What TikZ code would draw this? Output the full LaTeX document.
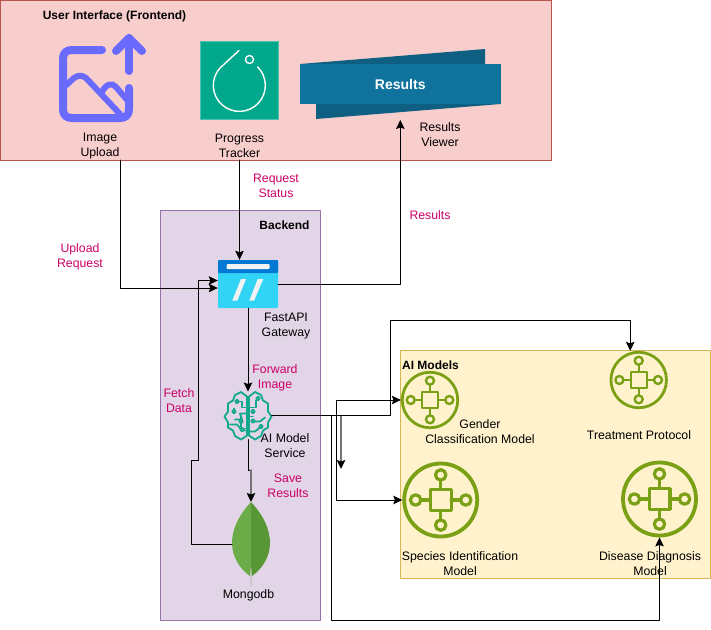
\documentclass[tikz,border=0pt]{standalone}
\usepackage{fontspec}
\setmainfont{Liberation Sans}
\usetikzlibrary{arrows.meta,calc}
\definecolor{uipink}{HTML}{F8CECC}
\definecolor{uired}{HTML}{B85450}
\definecolor{backlilac}{HTML}{E1D5E7}
\definecolor{backviolet}{HTML}{9673A6}
\definecolor{modelcream}{HTML}{FFF2CC}
\definecolor{modelgold}{HTML}{D6B656}
\definecolor{flowpink}{HTML}{CC0066}
\definecolor{uploadblue}{HTML}{6A6AFF}
\definecolor{trackgreen}{HTML}{02A88C}
\definecolor{bannerfront}{HTML}{10739E}
\definecolor{bannerback}{HTML}{0E5F82}
\definecolor{gatedark}{HTML}{0078D4}
\definecolor{gatelight}{HTML}{32D4F5}
\definecolor{braingreen}{HTML}{12A88E}
\definecolor{leaflight}{HTML}{6CAC48}
\definecolor{leafdark}{HTML}{589636}
\definecolor{hubgreen}{HTML}{7AA116}
\tikzset{
    panel/.style={draw, rectangle, line width=1pt, anchor=north west, inner sep=0pt, outer sep=0pt},
    caption/.style={align=center, inner sep=0pt, yshift=-1pt, font=\fontsize{12.3}{15}\selectfont},
    flowtext/.style={caption, text=flowpink},
    heading/.style={caption, font=\fontsize{12}{15}\selectfont\bfseries},
    flow/.style={draw=black, line width=1pt, ->},
    greyflow/.style={draw=black!55, line width=1.6pt, ->},
    ring/.style={draw=hubgreen, circle, fill=none, inner sep=0pt},
    modelhub/.pic={
        \draw[hubgreen] (-8,-8) rectangle (8,8);
        \foreach \a/\b in {1/0,-1/0,0/1,0/-1} {
            \draw[hubgreen] (8*\a,8*\b) -- (15.3*\a,15.3*\b);
            \draw[hubgreen] (19.3*\a,19.3*\b) circle (4);
        }
    }
}
\begin{document}
\begin{tikzpicture}[line cap=round, line join=round, x=1pt, y=-1pt,
    >={Stealth[length=9pt,width=8.5pt,inset=1.5pt,color=black]}]

    \useasboundingbox (0,0) rectangle (711,629);

    \node[panel, fill=uipink, draw=uired, minimum width=551pt, minimum height=160pt] (frontend) at (0,0) {};
    \node[panel, fill=backlilac, draw=backviolet, minimum width=160.3pt, minimum height=410pt] (backend) at (160,210) {};
    \node[panel, fill=modelcream, draw=modelgold, minimum width=310pt, minimum height=228pt] (models) at (400,350) {};

    \node[heading] (frontendtitle) at (114.5,15) {User Interface (Frontend)};
    \node[heading] (backendtitle) at (284.5,224.5) {Backend};
    \node[heading] (modelstitle) at (430.5,364) {AI Models};

    \draw[uploadblue, line width=8pt] (102,50) -- (72,50) .. controls (66,50) and (63,53) .. (63,59)
        -- (63,109) .. controls (63,115) and (66,118) .. (72,118) -- (120,118)
        .. controls (126,118) and (129,115) .. (129,109) -- (129,88);
    \draw[uploadblue, line width=8pt] (129,71) -- (129,38);
    \draw[uploadblue, line width=8pt] (116,51) -- (129,38) -- (142,51);
    \draw[uploadblue, line width=6pt] (63,88) -- (74,78) .. controls (78,75) and (82,75) .. (86,78) -- (120,114);
    \draw[uploadblue, line width=6pt] (102,92) .. controls (106,84) and (112,82) .. (116,87) -- (128,101);

    \node[draw=trackgreen!70!white, fill=trackgreen, minimum size=78pt, inner sep=0pt] (tracker) at (239.5,80) {};
    \draw[white, line width=1.4pt] (239,50.5) -- (220,68) arc[start angle=138, end angle=405, radius=26pt];
    \draw[white, line width=1.4pt] (249.5,59.5) circle (4);

    \fill[bannerback] (300,64) -- (485,49) -- (485,64) -- cycle;
    \fill[bannerback] (316,104) -- (316,119) -- (500.5,104) -- cycle;
    \node[fill=bannerfront, minimum width=200.5pt, minimum height=40pt, inner sep=0pt,
        text=white, font=\fontsize{14}{15}\selectfont\bfseries] (banner) at (400.25,84) {Results};

    \node[fill=gatelight, minimum width=60pt, minimum height=48pt, inner sep=0pt, rounded corners=1pt] (gateway) at (248,284) {};
    \fill[gatedark, rounded corners=1pt] (218,273) rectangle (278,260);
    \fill[white!95!black, rounded corners=1pt] (226.5,264) rectangle (269.5,269);
    \fill[white!95!black] (241,279) -- (246,279) -- (237.3,300.7) -- (232.3,300.7) -- cycle;
    \fill[white!95!black] (257.7,279) -- (263.3,279) -- (254,300.7) -- (249.3,300.7) -- cycle;

    \node[circle, minimum size=48pt, inner sep=0pt, outer sep=0pt] (service) at (248,415.5) {};
    \begin{scope}[shift={(service)}, braingreen, line width=1.8pt]
        \draw (-1,-19) -- (-7,-23.5) -- (-13,-20.5) -- (-15,-15) -- (-20,-12) -- (-20,-4) -- (-23.5,1) -- (-20,7)
            -- (-20,12) -- (-15,15) -- (-13,20.5) -- (-7,24) -- (-1,20) -- cycle;
        \draw (1,-19) -- (7,-23.5) -- (13,-20.5) -- (15,-15) -- (20,-12) -- (20,-4) -- (23.5,1) -- (20,7)
            -- (20,12) -- (15,15) -- (13,20.5) -- (7,24) -- (1,20) -- cycle;
        \draw (-1,-8) -- (-6,-8) -- (-6,-14) -- (-9,-14);
        \draw (-14,-2) -- (-14,-7);
        \draw (-13,4) -- (-6,4) -- (-8,-2) -- (-1,-2);
        \draw (-7,2) -- (-7,12);
        \draw (-18,9) -- (-11,9) -- (-6,15) -- (-3,15);
        \draw (-1,13) -- (-5,13);
        \draw (1,-8) -- (8,-8) -- (8,-15);
        \draw (1,1) -- (5,1);
        \draw (5,6) -- (12,6) -- (17,2);
        \draw (1,16) -- (7,16) -- (13,11);
        \draw[fill=backlilac] (-11,-14) circle (1.8);
        \draw[fill=backlilac] (-14,-4) circle (1.8);
        \draw[fill=backlilac] (-7,6) circle (1.8);
        \draw[fill=backlilac] (-6,14) circle (1.8);
        \draw[fill=backlilac] (10,-17) circle (1.8);
        \draw[fill=backlilac] (5,-4) circle (1.8);
        \draw[fill=backlilac] (5,5.5) circle (1.8);
        \draw[fill=backlilac] (13,11) circle (1.8);
    \end{scope}

    \node[minimum width=38pt, minimum height=84pt, inner sep=0pt, outer sep=0pt] (leaf) at (251,544) {};
    \fill[black!22] (250,566) -- (252.5,566) -- (252,586) -- (250.5,586) -- cycle;
    \fill[leaflight] (251,502) .. controls (238,516) and (232,530) .. (232,543) .. controls (232,557) and (240,569) .. (250,576) -- (251,565) -- cycle;
    \fill[leafdark] (251,502) .. controls (264,516) and (270,530) .. (270,543) .. controls (270,557) and (262,569) .. (252,576) -- (251,565) -- cycle;

    \node[ring, line width=2.8pt, minimum size=55.5pt] (gender) at (430,400) {};
    \node[ring, line width=2.8pt, minimum size=55.5pt] (treatment) at (638.7,380) {};
    \node[ring, line width=3.8pt, minimum size=73pt] (species) at (440.7,500) {};
    \node[ring, line width=3.8pt, minimum size=73pt] (disease) at (659.5,499) {};
    \pic[line width=2.4pt] at (gender) {modelhub};
    \pic[line width=2.4pt] at (treatment) {modelhub};
    \pic[line width=3.2pt, scale=1.3] at (species) {modelhub};
    \pic[line width=3.2pt, scale=1.3] at (disease) {modelhub};

    \node[caption] (uploadtext) at (100,145) {Image\\Upload};
    \node[caption] (trackertext) at (239.5,145) {Progress\\Tracker};
    \node[caption] (viewertext) at (440,134) {Results\\Viewer};
    \node[caption] (gatewaytext) at (286,325) {FastAPI\\Gateway};
    \node[caption] (servicetext) at (285,445) {AI Model\\Service};
    \node[caption] (leaftext) at (248.5,594.5) {Mongodb};
    \node[caption] (gendertext) at (480,430.5) {Gender\\Classification Model};
    \node[caption] (treatmenttext) at (639,434.5) {Treatment Protocol};
    \node[caption] (speciestext) at (460,562.5) {Species Identification\\Model};
    \node[caption] (diseasetext) at (650,563) {Disease Diagnosis\\Model};

    \node[flowtext] (uploadflow) at (80,255.5) {Upload\\Request};
    \node[flowtext] (statusflow) at (276,185) {Request\\Status};
    \node[flowtext] (resultsflow) at (430,214.5) {Results};
    \node[flowtext] (forwardflow) at (275,376.5) {Forward\\Image};
    \node[flowtext] (fetchflow) at (179,400) {Fetch\\Data};
    \node[flowtext] (saveflow) at (288,485) {Save\\Results};

    \coordinate (uploadout) at (120.5,160);
    \coordinate (viewerin) at (400.3,120);
    \coordinate (strayend) at (341,469);
    \coordinate (leafbend) at (251,470);

    \draw[flow] (uploadout) |- ([yshift=-4pt]gateway.west);
    \draw[flow] (tracker.south |- frontend.south) -- (tracker.south |- gateway.north);
    \draw[flow] (gateway.east) -| (viewerin);
    \draw[flow] (gateway.south) -- (service.north);
    \draw[flow, -] (service.south) |- (leafbend);
    \draw[greyflow] (leafbend) -- (leaf.north);
    \draw[flow] (leaf.west) -- ++(-41,0) -- ++(0,-84) -- ++(7,0) |- ([yshift=3.5pt]gateway.west);
    \draw[greyflow] (service.east) -- ++(69,0) -- (strayend);
    \draw[flow] (service.east) -- ++(118,0) -- ++(0,-95) -| ([xshift=-8.5pt]treatment.north);
    \draw[flow] (service.east) -- ++(64,0) |- (gender.west);
    \draw[flow] (service.east) -- ++(64,0) |- (species.west);
    \draw[flow] (service.east) -- ++(59,0) -- ++(0,205) -| (disease.south);

\end{tikzpicture}
\end{document}
